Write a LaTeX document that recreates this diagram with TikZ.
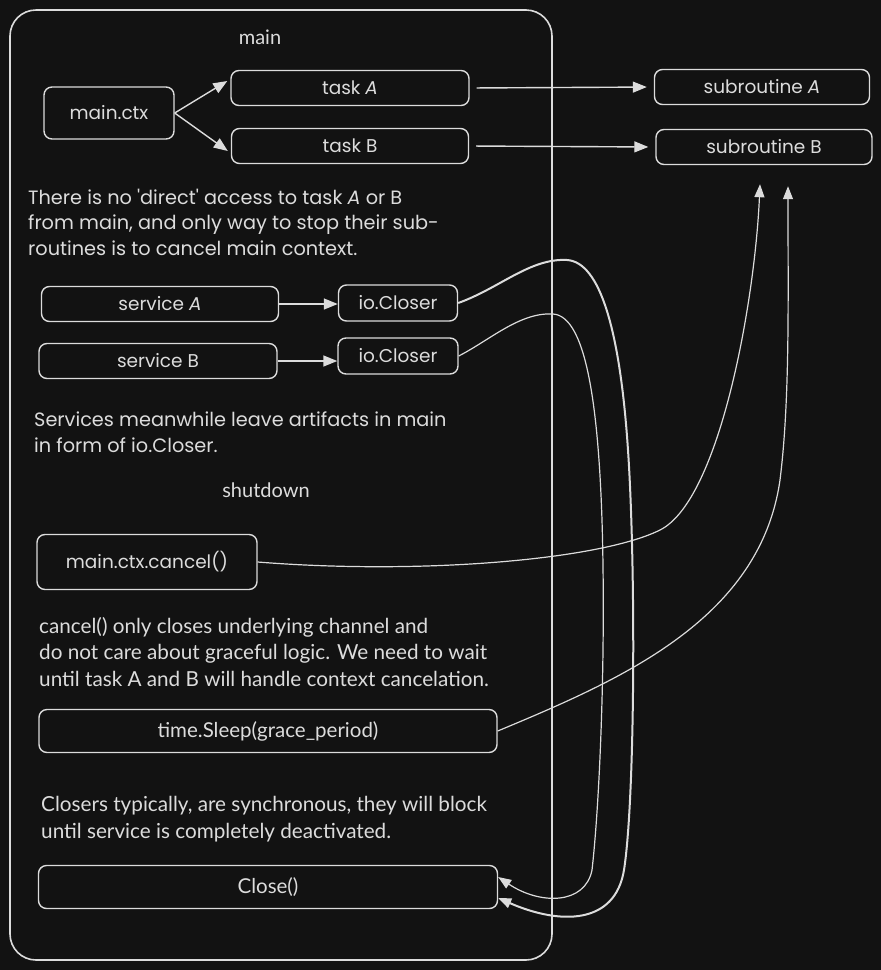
\documentclass[tikz,border=0pt]{standalone}
\usepackage{fontspec}
\setmainfont{Lato}
\newfontfamily\handfont{Poppins}
\usetikzlibrary{arrows.meta,calc}
\definecolor{bg}{HTML}{121212}
\definecolor{ink}{HTML}{DCDCDC}
\tikzset{
  stroke/.style={draw=ink, line width=1.4pt},
  box/.style={stroke, rounded corners=8pt, text=ink, inner sep=0pt,
    font=\handfont\fontsize{18.5}{22}\selectfont},
  plainbox/.style={box, font=\fontsize{20.5}{24}\selectfont},
  frame/.style={stroke, line width=1.6pt, rounded corners=26pt, inner sep=0pt},
  label/.style={text=ink, inner sep=0pt, font=\fontsize{20}{24}\selectfont},
  handpara/.style={text=ink, inner sep=0pt, align=left, anchor=base west,
    font=\handfont\fontsize{19.3}{25.5}\selectfont},
  plainpara/.style={text=ink, inner sep=0pt, align=left, anchor=base west,
    font=\fontsize{20.7}{26.5}\selectfont},
  arr/.style={stroke, -{Triangle[length=14pt,width=11pt]}},
  link/.style={stroke, line width=1.2pt, -{Triangle[length=13pt,width=10pt]}},
}
\begin{document}
\begin{tikzpicture}[x=1pt,y=-1pt]
  \fill[bg] (0,0) rectangle (881,970);
  \useasboundingbox (0,0) rectangle (881,970);

  % outer frame for main
  \node[frame, minimum width=542pt, minimum height=950pt] (mainframe) at (281,485) {};
  \node[label] (mainlbl) at (260,37) {main};

  % context and tasks
  \node[box, minimum width=130pt, minimum height=52pt] (ctx) at (109,113) {main.ctx};
  \node[box, minimum width=238pt, minimum height=35pt] (taskA) at (350,88) {task \itshape A};
  \node[box, minimum width=237pt, minimum height=35pt] (taskB) at (350,146) {task B};
  \node[box, minimum width=215pt, minimum height=35pt] (subA) at (762,87) {subroutine \itshape A};
  \node[box, minimum width=216pt, minimum height=35pt] (subB) at (764,147) {subroutine B};

  \draw[arr] (ctx.east) -- ([xshift=-3pt,yshift=7pt]taskA.west);
  \draw[arr] (ctx.east) -- ([xshift=-3pt,yshift=-5pt]taskB.west);
  \draw[arr, shorten <=7pt, shorten >=7pt] (taskA.east) -- (subA.west);
  \draw[arr, shorten <=7pt, shorten >=7pt] (taskB.east) -- (subB.west);

  \node[handpara] (note1) at (28,255)
    {There is no \char39 direct\char39{} access to task \textit{A} or B\\
     from main, and only way to stop their sub-\\
     routines is to cancel main context.};

  % services and their closers
  \node[box, minimum width=237pt, minimum height=35pt] (svcA) at (160,304) {service \itshape A};
  \node[box, minimum width=238pt, minimum height=35pt] (svcB) at (158,361) {service B};
  \node[box, minimum width=119pt, minimum height=36pt] (ioA) at (398,303) {io.Closer};
  \node[box, minimum width=120pt, minimum height=36pt] (ioB) at (398,356) {io.Closer};
  \draw[arr] (svcA.east) -- (svcA.east -| ioA.west);
  \draw[arr] (svcB.east) -- (svcB.east -| ioB.west);

  \node[handpara] (note2) at (34,452)
    {Services meanwhile leave artifacts in main\\
     in form of io.Closer.};

  % shutdown sequence
  \node[label] (shutlbl) at (266,490) {shutdown};
  \node[box, minimum width=220pt, minimum height=55pt] (cancel) at (147,562) {main.ctx.cancel()};
  \node[plainpara] (note3) at (39,686)
    {cancel() only closes underlying channel and\\
     do not care about graceful logic. We need to wait\\
     until task A and B will handle context cancelation.};
  \node[plainbox, minimum width=458pt, minimum height=43pt] (sleep) at (268,731) {time.Sleep(grace\_period)};
  \node[plainpara] (note4) at (41,838)
    {Closers typically, are synchronous, they will block\\
     until service is completely deactivated.};
  \node[plainbox, minimum width=459pt, minimum height=43pt] (close) at (268,887) {Close()};

  % arrow ends below subroutine B
  \coordinate (inL) at ($(subB.south)+(-4,19)$);
  \coordinate (inR) at ($(subB.south)+(24,21)$);

  % cancel and grace period reach subroutine B
  \draw[link] (cancel.east) .. controls (420,575) and (600,560) .. (660,530)
    .. controls (720,500) and (755,300) .. (inL);
  \draw[link] (sleep.east) .. controls (620,680) and (760,620) .. (780,480)
    .. controls (790,400) and (788,300) .. (inR);

  % closers are collected by Close()
  \draw[link, line width=2pt] (ioA.east) .. controls (500,288) and (530,258) .. (567,260)
    .. controls (600,262) and (620,330) .. (628,450)
    .. controls (636,570) and (635,800) .. (624,870)
    .. controls (615,925) and (560,925) .. ([yshift=-11pt]close.east);
  \draw[link] (ioB.east) .. controls (490,340) and (520,312) .. (553,314)
    .. controls (585,316) and (598,400) .. (602,520)
    .. controls (606,650) and (600,800) .. (592,870)
    .. controls (585,905) and (540,905) .. ([yshift=10pt]close.east);
\end{tikzpicture}
\end{document}
